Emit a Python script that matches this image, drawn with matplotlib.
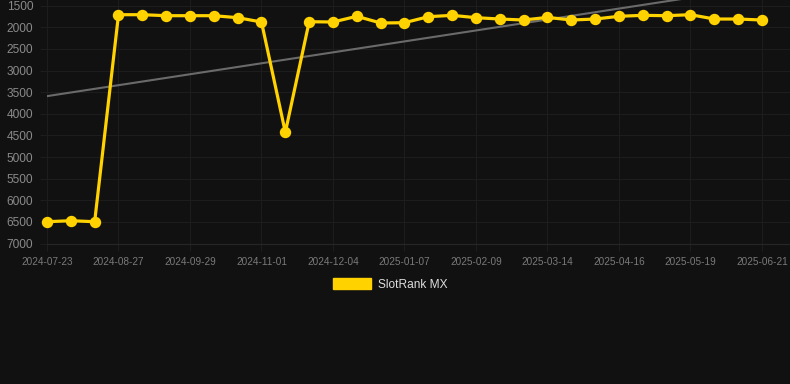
import matplotlib
matplotlib.use("Agg")
import matplotlib.pyplot as plt
import numpy as np
from matplotlib.patches import Patch

tick_labels = ["2024-07-23", "2024-08-27", "2024-09-29", "2024-11-01", "2024-12-04",
               "2025-01-07", "2025-02-09", "2025-03-14", "2025-04-16", "2025-05-19",
               "2025-06-21"]
ranks = [6494, 6471, 6494, 1708, 1708, 1731, 1731, 1731, 1777, 1877, 4427,
         1870, 1877, 1745, 1900, 1893, 1754, 1723, 1777, 1808, 1831,
         1770, 1831, 1808, 1745, 1723, 1731, 1708, 1808, 1808, 1831]
series_name = "SlotRank MX"
y_ticks = [1500, 2000, 2500, 3000, 3500, 4000, 4500, 5000, 5500, 6000, 6500, 7000]

bg = "#111111"
yellow = "#FFD200"
grid = "#1d1d1d"
plt.rcParams['font.family'] = ['Liberation Sans', 'DejaVu Sans']

fig = plt.figure(figsize=(7.9, 3.84), dpi=100, facecolor=bg)
ax = fig.add_axes([47/790, (384-243.6)/384, 1-47/790, 243.6/384])
ax.set_facecolor(bg)

x = np.arange(len(ranks))
coef = np.polyfit(x, ranks, 1)
ax.plot(x, np.polyval(coef, x), color="#6a6a6a", lw=1.5, zorder=2)
ax.plot(x, ranks, color=yellow, lw=2.3, marker="o", markersize=7.2,
        markerfacecolor=yellow, markeredgecolor=yellow, zorder=3, clip_on=False)

ax.set_ylim(7000, 1500 - 5.7/0.04325)
ax.set_xlim(0, 30 + 28/23.83)
ax.set_yticks(y_ticks)
ax.set_yticklabels([str(v) for v in y_ticks])
ax.set_xticks(x[::3])
ax.set_xticklabels(tick_labels)

ax.grid(True, color=grid, lw=0.8)
for s in ax.spines.values():
    s.set_visible(False)
ax.spines['bottom'].set_visible(True)
ax.spines['bottom'].set_color("#262626")
ax.spines['bottom'].set_linewidth(0.8)
ax.tick_params(axis='y', colors=grid, labelcolor="#8a8a8a", labelsize=8.6,
               length=5, width=0.8, pad=5)
ax.tick_params(axis='x', colors=grid, labelcolor="#7a7a7a", labelsize=7.2,
               length=5, width=0.8, pad=5)

handle = Patch(facecolor=yellow, edgecolor=yellow)
fig.legend([handle], [series_name], loc="center", bbox_to_anchor=(390/790, 1-284.5/384),
           frameon=False, fontsize=8.6, labelcolor="#dddddd",
           handlelength=3.2, handleheight=0.95, handletextpad=0.55)

fig.savefig("out.png", dpi=100, facecolor=bg)
